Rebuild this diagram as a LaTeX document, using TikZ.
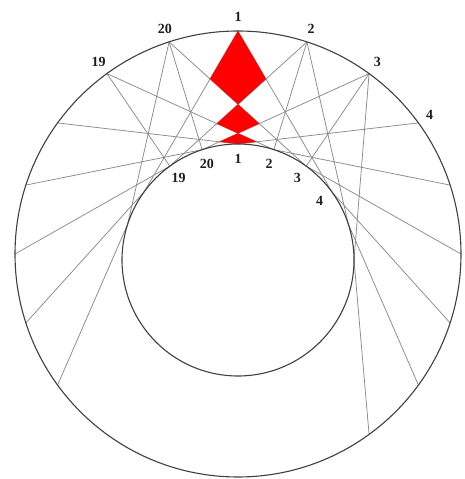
\documentclass[tikz,border=0pt]{standalone}
\usepackage{fontspec}
\setmainfont{Liberation Serif}
\usetikzlibrary{calc}
\definecolor{ink}{HTML}{1E1E1E}
\definecolor{raygray}{HTML}{8A8A8A}
\definecolor{hotred}{HTML}{FF0000}
\tikzset{
  rim/.style={draw=ink!85, line width=1.1pt},
  ray/.style={draw=raygray, line width=0.75pt},
  numlbl/.style={font=\bfseries\fontsize{14}{14}\selectfont, text=ink, inner sep=0pt},
  hotspot/.style={fill=hotred, draw=none},
}

\begin{document}
\begin{tikzpicture}[x=1pt, y=1pt, line cap=round, line join=round]
\useasboundingbox (0,0) rectangle (465,479);

% ===================== the two rings and their 20 points =====================
\coordinate (O) at (238,225);
\coordinate (I) at (238,219);
\foreach \k in {1,...,20}{
  \coordinate (o\k) at ($(O)+({90-18*(\k-1)}:223)$);
  \coordinate (i\k) at ($(I)+({90-18*(\k-1)}:116)$);
}

% ===================== rays: outer k -> inner k+3, k-3, k =====================
\foreach \k in {14,...,20,1,2,3}{\pgfmathtruncatemacro{\j}{mod(\k+2,20)+1}
   \draw[ray] (o\k) -- (i\j);}
\foreach \k in {1,...,9,20}{\pgfmathtruncatemacro{\j}{mod(\k+16,20)+1}
   \draw[ray] (o\k) -- (i\j);}
\foreach \k in {19,20,2,3}{\draw[ray] (o\k) -- (i\k);}

% ===================== red overlap region =====================
\fill[hotspot] (o1)
  -- (intersection of o1--i18 and o20--i3)
  -- (intersection of o20--i3 and o2--i19)
  -- (intersection of o2--i19 and o19--i2)
  -- (intersection of o19--i2 and o3--i20)
  -- (intersection of o3--i20 and o18--i1)
  -- (i1)
  -- (intersection of o19--i2 and o4--i1)
  -- (intersection of o19--i2 and o3--i20)
  -- (intersection of o3--i20 and o20--i3)
  -- (intersection of o20--i3 and o2--i19)
  -- (intersection of o2--i19 and o1--i4)
  -- cycle;

\draw[rim] (O) circle[radius=223];
\draw[rim] (I) circle[radius=116];

% ===================== numbers =====================
\foreach \k in {1,2,3,4,19,20}{
  \node[numlbl] (lo\k) at ($(O)+({90-18*(\k-1)}:237)$) {\k};
  \node[numlbl] (li\k) at ($(I)+({90-18*(\k-1)}:101)$) {\k};
}

\end{tikzpicture}
\end{document}
